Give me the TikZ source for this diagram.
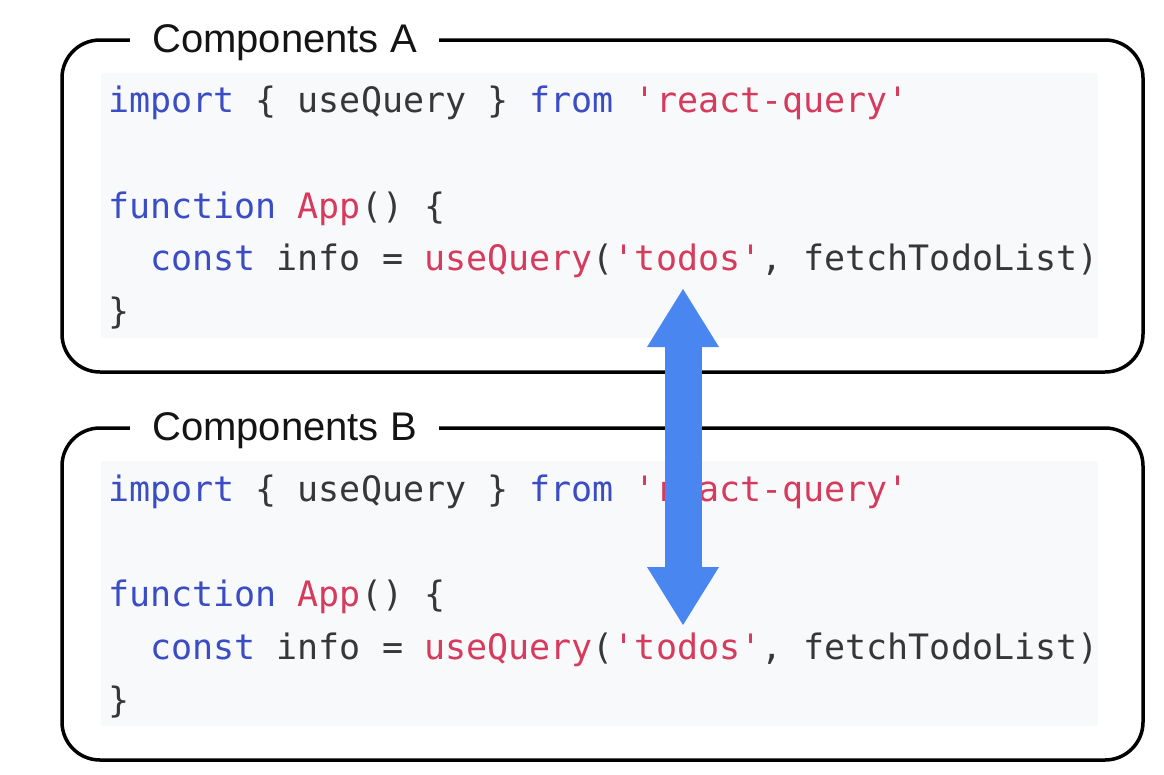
\documentclass[tikz,border=0pt]{standalone}
\usepackage{fontspec}
\setmainfont{Liberation Sans}
\setmonofont{DejaVu Sans Mono}
\usetikzlibrary{arrows.meta}
\definecolor{kw}{RGB}{59,77,196}
\definecolor{st}{RGB}{214,58,92}
\definecolor{tx}{RGB}{55,55,55}
\definecolor{codebg}{RGB}{248,249,251}
\definecolor{arrowblue}{RGB}{74,134,240}
\begin{document}
\begin{tikzpicture}[x=1pt,y=-1pt,
  box/.style={draw=black, line width=3.5pt, rounded corners=38pt, minimum width=1081pt, minimum height=332pt, inner sep=0pt},
  codebgbox/.style={fill=codebg, minimum width=997pt, minimum height=265pt, inner sep=0pt},
  titlelbl/.style={fill=white, inner xsep=22pt, inner ysep=4pt, font=\fontsize{40}{48}\selectfont, text=black!92, anchor=base west},
  code/.style={anchor=base west, inner sep=0pt, font=\ttfamily\fontsize{35}{52}\selectfont, text=tx},
  bigarrow/.style={arrowblue, line width=37pt, {Triangle[width=72pt,length=58pt,line width=0pt]}-{Triangle[width=72pt,length=58pt,line width=0pt]}}
]
\useasboundingbox (0,0) rectangle (1164,774);
\fill[white] (0,0) rectangle (1164,774);
% Box A
\node[codebgbox] (bgA) at (599.5,205.5) {};
\node[box] (boxA) at (602.5,206) {};
\node[titlelbl] (titleA) at (130,52) {Components A};
\node[code] (a1) at (108,112.5) {\textcolor{kw}{import} \{ useQuery \} \textcolor{kw}{from} \textcolor{st}{'react-query'}};
\node[code] (a2) at (108,218) {\textcolor{kw}{function} \textcolor{st}{App}() \{};
\node[code] (a3) at (150.1,270.5) {\textcolor{kw}{const} info = \textcolor{st}{useQuery}(\textcolor{st}{'todos'}, fetchTodoList)};
\node[code] (a4) at (108,323.5) {\}};
% Box B
\node[codebgbox] (bgB) at (599.5,593.5) {};
\node[box] (boxB) at (602.5,594) {};
\node[titlelbl] (titleB) at (130,440) {Components B};
\node[code] (b1) at (108,501.5) {\textcolor{kw}{import} \{ useQuery \} \textcolor{kw}{from} \textcolor{st}{'react-query'}};
\node[code] (b2) at (108,606.5) {\textcolor{kw}{function} \textcolor{st}{App}() \{};
\node[code] (b3) at (150.1,659.5) {\textcolor{kw}{const} info = \textcolor{st}{useQuery}(\textcolor{st}{'todos'}, fetchTodoList)};
\node[code] (b4) at (108,712) {\}};
% Arrow
\coordinate (upTip) at (683,289);
\coordinate (downTip) at (683,625);
\draw[bigarrow] (upTip) -- (downTip);
\end{tikzpicture}
\end{document}
